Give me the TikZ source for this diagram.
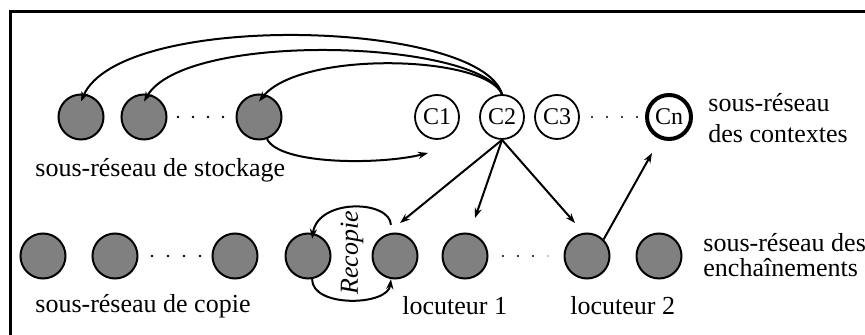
\documentclass[tikz,border=0pt]{standalone}
\usepackage{fontspec}
\setmainfont{Liberation Serif}
\usetikzlibrary{arrows.meta}
\begin{document}
\begin{tikzpicture}[x=0.5pt,y=-0.5pt,
  graycirc/.style={circle,draw=black,line width=1pt,fill=gray50,minimum size=22.5pt,inner sep=0pt},
  ctxcirc/.style={circle,draw=black,line width=0.9pt,fill=white,minimum size=22pt,inner sep=0pt,font=\fontsize{12}{14}\selectfont},
  lbl/.style={anchor=base west,inner sep=0pt,font=\fontsize{13}{15}\selectfont},
  conn/.style={line width=1pt,-{Stealth[length=5pt,width=3.6pt,inset=1.6pt]}},
  dotmark/.style={fill=black}]
\definecolor{gray50}{HTML}{808080}
\clip (0,0) rectangle (865,335);
% frame
\draw[line width=1.5pt] (880,11.5) -- (10.5,11.5) -- (10.5,350);
% top row (stockage)
\node[graycirc] (s1) at (81,117) {};
\node[graycirc] (s2) at (144,117) {};
\node[graycirc] (s3) at (259,117) {};
\foreach \x in {178,193,208,223} \fill[dotmark] (\x,117) circle (1.4);
% contexts
\node[ctxcirc] (c1) at (437,117) {C1};
\node[ctxcirc] (c2) at (502,117) {C2};
\node[ctxcirc] (c3) at (557,117) {C3};
\node[ctxcirc,line width=2pt] (cn) at (669,117) {Cn};
\foreach \x in {592,607,622,637} \fill[dotmark] (\x,117) circle (1.2);
% bottom row
\node[graycirc] (b1) at (43,256) {};
\node[graycirc] (b2) at (115,256) {};
\node[graycirc] (b3) at (235,256) {};
\node[graycirc] (b4) at (308,256) {};
\node[graycirc] (l1) at (395,256) {};
\node[graycirc] (l2) at (465,256) {};
\node[graycirc] (l3) at (587,256) {};
\node[graycirc] (l4) at (659,256) {};
\foreach \x in {152,168,184,200} \fill[dotmark] (\x,256) circle (1.4);
\foreach \x in {503,518,533} \fill[dotmark] (\x,256) circle (1.2);
\fill[gray!60] (548,256) circle (1.2);
% labels
\node[lbl] (ls) at (35,177) {sous-réseau de stockage};
\node[lbl] (lc1) at (708,112) {sous-réseau};
\node[lbl] (lc2) at (708,143) {des contextes};
\node[lbl] (le1) at (703,252) {sous-réseau des};
\node[lbl] (le2) at (703,277) {enchaînements};
\node[lbl] (lcp) at (35,313) {sous-réseau de copie};
\node[lbl] (lo1) at (402,315) {locuteur 1};
\node[lbl] (lo2) at (570,315) {locuteur 2};
\node[rotate=90,inner sep=0pt,font=\fontsize{13}{15}\selectfont\itshape] (rec) at (352,253) {Recopie};
% connector end points
\coordinate (t1) at (400,223);
\coordinate (t2) at (475,218);
\coordinate (t3) at (575,223);
\coordinate (tc1) at (428,153);
\coordinate (tcn) at (652,153);
% curves from C2 to stockage
\draw[conn] (c2.north) .. controls (480,20) and (120,10) .. ([yshift=-4pt]s1.north);
\draw[conn] (c2.north) .. controls (480,40) and (185,30) .. ([yshift=-4pt]s2.north);
\draw[conn] (c2.north) .. controls (485,55) and (300,50) .. ([yshift=-4pt]s3.north);
% stockage to C1
\draw[conn] (s3.-70) .. controls (280,165) and (380,165) .. (tc1);
% C2 to enchainements
\draw[conn] (c2.south) -- (t1);
\draw[conn] (c2.south) -- (t2);
\draw[conn] (c2.south) -- (t3);
% locuteur 2 to Cn
\draw[conn] (l3.45) -- (tcn);
% recopie arcs
\draw[conn] ([yshift=4pt]l1.100) .. controls (390,200) and (318,198) .. ([yshift=-3pt]b4.80);
\draw[conn] (b4.-80) .. controls (312,308) and (388,306) .. (l1.-100);
\end{tikzpicture}
\end{document}
